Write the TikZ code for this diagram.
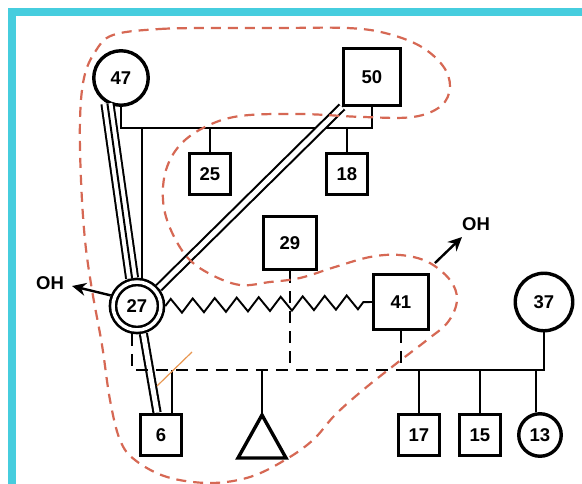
\documentclass[tikz,border=0pt]{standalone}
\usepackage{fontspec}
\setmainfont{Liberation Sans}
\usetikzlibrary{calc,arrows.meta,decorations.pathmorphing}
\newcommand\pnfont{\fontsize{18.5}{20}\selectfont\bfseries}
\definecolor{cyanbar}{RGB}{70,205,222}
\definecolor{loopred}{RGB}{214,104,84}
\definecolor{lightorange}{RGB}{232,150,80}
\tikzset{
 person/.style={draw, line width=3.4pt, inner sep=0pt, font=\pnfont},
 sq/.style={person, rectangle, minimum size=#1},
 ci/.style={person, circle, minimum size=#1},
 rel/.style={line width=2.5pt},
 dsh/.style={line width=2.5pt, dash pattern=on 12pt off 8pt},
 closerel/.style={line width=2.1pt, double distance=5pt},
 fusedouter/.style={line width=2pt, double distance=10pt},
 fusedinner/.style={line width=2pt},
 conflict/.style={line width=1.9pt, decorate, decoration={zigzag, segment length=22pt, amplitude=7pt}},
 outarrow/.style={line width=2.4pt, -{Stealth[length=14pt, width=13pt]}},
 boundary/.style={loopred, line width=2.2pt, dash pattern=on 10pt off 7pt},
}
\begin{document}
\begin{tikzpicture}[x=1pt, y=-1pt]
\useasboundingbox (0,0) rectangle (582,484);
\fill[white] (0,0) rectangle (582,484);
\fill[cyanbar] (7.5,8.5) rectangle (582,16.5);
\fill[cyanbar] (7.5,8.5) rectangle (16,484);

% people
\node[ci=54.5pt] (c47) at (121,78) {47};
\node[sq=56.5pt] (b50) at (372,77) {50};
\node[sq=41.5pt] (b25) at (210,174) {25};
\node[sq=41.5pt] (b18) at (347,174) {18};
\node[sq=53.5pt] (b29) at (290,243) {29};
\node[person, circle, line width=2.6pt, double, double distance=3.5pt, minimum size=48pt, outer sep=4.35pt] (c27) at (137,306) {27};
\node[sq=54.5pt] (b41) at (401,302) {41};
\node[ci=57.5pt] (c37) at (544,302) {37};
\node[sq=41.5pt] (b6) at (161,435) {6};
\node[sq=41.5pt] (b17) at (419,435) {17};
\node[sq=41.5pt] (b15) at (480,435) {15};
\node[ci=42.5pt] (c13) at (540,435) {13};
\coordinate (tri) at (262,415);
\draw[person, line join=miter] (tri) -- ++(-24,43) -- ++(48,0) -- cycle;

% helper coordinates
\coordinate (sibA) at (0,128);
\coordinate (hl) at (0,370);
\coordinate (b6r) at ($(b6.north)+(11,0)$);

% family of 47 and 50
\draw[rel] (c47.south) -- (c47.south |- sibA) -- (b50.south |- sibA) -- (b50.south);
\draw[rel] (b25.north) -- (b25.north |- sibA);
\draw[rel] (b18.north) -- (b18.north |- sibA);
\draw[rel] (c27.80) -- (c27.80 |- sibA);

% relationship lines
\draw[fusedouter] (c47.242) -- (c27.100);
\draw[fusedinner] (c47.242) -- (c27.100);
\draw[closerel] (b50.south west) -- (c27.40);
\draw[closerel] (c27.283) -- (b6.100);
\draw[conflict] (c27.east) -- (b41.west);

% dashed union line
\draw[dsh] (c27.260) -- (c27.260 |- hl) -- (b41.south |- hl);
\draw[dsh] (b29.south) -- (b29.south |- hl);
\draw[dsh] (b41.south) -- (b41.south |- hl);
\draw[rel] (b6r) -- (b6r |- hl);
\draw[rel] (tri) -- (tri |- hl);

% family of 41 and 37
\draw[rel] (c37.south) -- (c37.south |- hl) -- (b41.south |- hl);
\draw[rel] (b17.north) -- (b17.north |- hl);
\draw[rel] (b15.north) -- (b15.north |- hl);
\draw[rel] (c13.100) -- (c13.100 |- hl);

% OH arrows
\node[font=\pnfont] (ohL) at (50,283) {OH};
\node[font=\pnfont] (ohR) at (476,224) {OH};
\coordinate (ohLtip) at (72,286);
\coordinate (ohRtip) at (462,237);
\draw[outarrow] (c27.158) -- (ohLtip);
\draw[outarrow] ($(b41.north east)+(5,-10)$) -- (ohRtip);

% boundary
\draw[boundary] plot[smooth cycle, tension=0.6] coordinates {
(113,35) (160,29) (220,28) (280,28) (347,28) (385,33) (420,46) (443,66)
(450,87) (441,106) (413,117) (363,117) (300,114) (240,116) (205,127)
(180,145) (166,170) (163,200) (170,228) (187,257) (210,274) (240,285)
(270,282) (300,278) (335,267) (370,257) (400,255) (428,262) (450,280)
(457,300) (448,322) (427,340) (397,363) (363,390) (335,415) (313,440)
(285,460) (250,477) (210,483) (167,477) (135,460) (120,440) (110,400)
(102,345) (92,290) (85,240) (81,180) (80,120) (84,78) (95,52)};
\draw[lightorange, line width=1.2pt] (157,386) -- (192,352);
\end{tikzpicture}
\end{document}
